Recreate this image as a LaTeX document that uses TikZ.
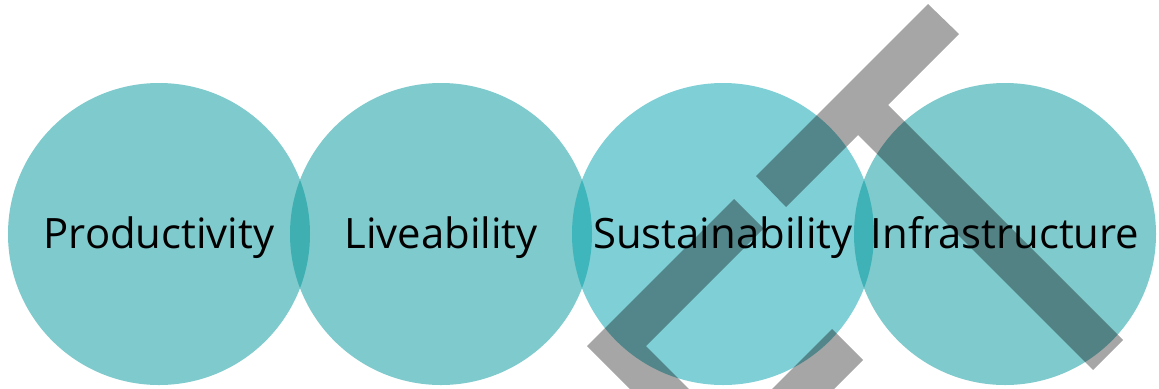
\documentclass[tikz,border=0pt]{standalone}
\usepackage{fontspec}
\setmainfont{Open Sans}
\definecolor{tealA}{RGB}{0,149,153}
\definecolor{tealB}{RGB}{0,161,173}
\definecolor{barg}{RGB}{166,166,166}
\begin{document}
\begin{tikzpicture}[x=1bp,y=-1bp,
  bubble/.style={circle, minimum size=302bp, inner sep=0pt, draw=none, fill=#1, fill opacity=0.5},
  lbl/.style={font=\fontsize{42}{50}\selectfont, text=black, anchor=base, inner sep=0pt},
  bar/.style={fill=barg, blend mode=multiply}]
\useasboundingbox (0,0) rectangle (1159,388);
\node[bubble=tealA] (c1) at (159,234) {};
\node[bubble=tealA] (c2) at (441,234) {};
\node[bubble=tealB] (c3) at (723,234) {};
\node[bubble=tealA] (c4) at (1005,234) {};
\begin{scope}
\clip (0,0) rectangle (1159,388);
\fill[bar] (928,4) -- (959,34) -- (888,105) -- (1123,340) -- (1093,370) -- (858,135) -- (786,207) -- (756,176) -- cycle;
\fill[bar] (734,199) -- (763.5,228.5) -- (646,346) -- (720,420) -- (661,420) -- (587,346) -- cycle;
\fill[bar] (832,329) -- (863,360) -- (803,420) -- (741,420) -- cycle;
\end{scope}
\node[lbl] (t1) at (159,248.5) {Productivity};
\node[lbl] (t2) at (441,248.5) {Liveability};
\node[lbl] (t3) at (723,248.5) {Sustainability};
\node[lbl] (t4) at (1005,248.5) {Infrastructure};
\end{tikzpicture}
\end{document}
